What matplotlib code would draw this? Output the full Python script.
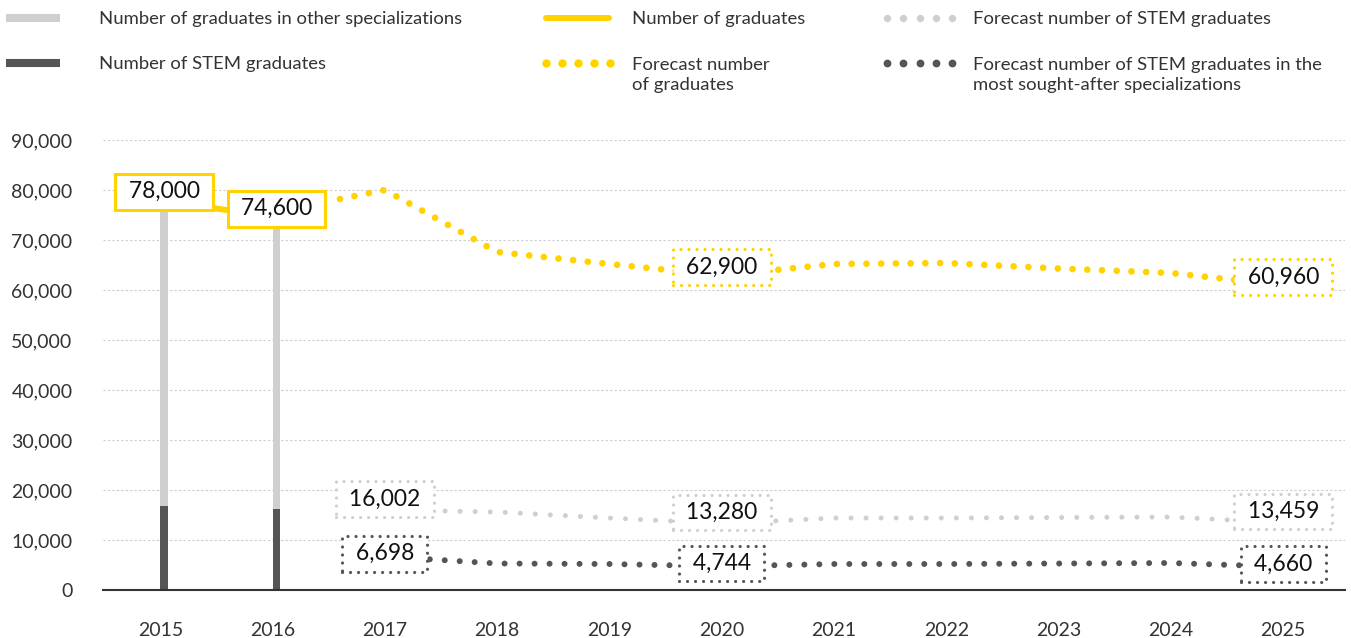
import matplotlib
matplotlib.use("Agg")
import matplotlib.pyplot as plt
from matplotlib.lines import Line2D
import numpy as np

plt.rcParams['font.family'] = ['Lato', 'DejaVu Sans']

# actual figures (bars + solid line)
actual_years = [2015, 2016]
graduates_total = [78000, 74600]
graduates_stem = [16800, 16200]

# forecasts
fc_grad_years = [2016.6, 2017, 2018, 2019, 2020, 2021, 2022, 2023, 2024, 2025]
fc_graduates = [78200, 80000, 67600, 65200, 62900, 65200, 65400, 64300, 63400, 60960]
fc_years = [2017, 2018, 2019, 2020, 2021, 2022, 2023, 2024, 2025]
fc_stem = [16002, 15600, 14400, 13280, 14400, 14400, 14500, 14600, 13459]
fc_stem_top = [6698, 5300, 5200, 4744, 5200, 5200, 5300, 5400, 4660]

# which years get a value box
grad_label_years = [2020, 2025]
stem_label_years = [2017, 2020, 2025]

x_ticks = list(range(2015, 2026))
y_ticks = list(range(0, 90001, 10000))

YELLOW = '#FFD200'
LIGHT = '#CFCFCF'
DARK = '#555555'
TEXT = '#333333'

W, H = 1351, 638
fig = plt.figure(figsize=(W / 100, H / 100), dpi=100)
ax = fig.add_axes([103 / W, 1 - 590 / H, (1345 - 103) / W, 450 / H])


def dots(lw, gap):
    return dict(linewidth=lw, linestyle=(0, (0.01, gap)), dash_capstyle='round')


# bars
ax.bar(actual_years, graduates_total, width=0.07, align='edge', color=LIGHT, zorder=2)
ax.bar(actual_years, graduates_stem, width=0.07, align='edge', color=DARK, zorder=3)

# lines
ax.plot(actual_years, graduates_total, color=YELLOW, linewidth=4.3, solid_capstyle='round', zorder=3)
ax.plot(fc_grad_years, fc_graduates, color=YELLOW, zorder=3, **dots(4.8, 2.2))
ax.plot(fc_years, fc_stem, color=LIGHT, zorder=3, **dots(3.6, 3.0))
ax.plot(fc_years, fc_stem_top, color=DARK, zorder=3, **dots(4.3, 2.5))


def value_box(x, y, color, dotted, dy):
    if dotted:
        bb = dict(boxstyle='square,pad=0.32', fc='white', ec=color, lw=2.3,
                  ls=(0, (0.01, 2.5)), capstyle='round')
    else:
        bb = dict(boxstyle='square,pad=0.32', fc='white', ec=color, lw=2.2)
    ax.annotate(f" {y:,} ", (x, y), xytext=(0, dy), textcoords='offset points',
                ha='center', va='center', fontsize=16.5, color='#111111',
                bbox=bb, zorder=6)


for x, v in zip(actual_years, graduates_total):
    value_box(x + 0.035, v, YELLOW, False, 6)
for x, v in zip(fc_grad_years, fc_graduates):
    if x in grad_label_years:
        value_box(x, v, YELLOW, True, 6)
for x, v in zip(fc_years, fc_stem):
    if x in stem_label_years:
        value_box(x, v, LIGHT, True, 8)
for x, v in zip(fc_years, fc_stem_top):
    if x in stem_label_years:
        value_box(x, v, DARK, True, 2)

ax.set_xlim(2014.49, 2025.55)
ax.set_ylim(0, 90000)
ax.set_xticks(x_ticks)
ax.set_yticks(y_ticks)
ax.set_yticklabels([f"{v:,}" for v in y_ticks])
ax.tick_params(axis='both', length=0, labelsize=14, labelcolor=TEXT)
ax.tick_params(axis='x', pad=23)
ax.tick_params(axis='y', pad=22)
ax.grid(axis='y', color='#CCCCCC', linewidth=0.8, linestyle=(0, (2, 2)), zorder=0)
for s in ['top', 'right', 'left']:
    ax.spines[s].set_visible(False)
ax.spines['bottom'].set_color(TEXT)
ax.spines['bottom'].set_linewidth(1.5)
ax.spines['bottom'].set_zorder(4)

# legend drawn in pixel positions along the top
leg = fig.add_axes([0, 0, 1, 1], facecolor='none')
leg.set_xlim(0, W)
leg.set_ylim(H, 0)
leg.axis('off')

leg.add_line(Line2D([6, 60], [18, 18], color=LIGHT, linewidth=5.8, solid_capstyle='butt'))
leg.add_line(Line2D([6, 60], [63, 63], color=DARK, linewidth=5.8, solid_capstyle='butt'))
leg.add_line(Line2D([546, 609], [18, 18], color=YELLOW, linewidth=4.3, solid_capstyle='round'))
leg.add_line(Line2D(np.linspace(546, 610, 5), [63] * 5, color=YELLOW, marker='o',
                    markersize=5, linestyle='none'))
leg.add_line(Line2D(np.linspace(887, 952, 5), [18] * 5, color=LIGHT, marker='o',
                    markersize=4.3, linestyle='none'))
leg.add_line(Line2D(np.linspace(887, 952, 5), [63] * 5, color=DARK, marker='o',
                    markersize=4.6, linestyle='none'))

lkw = dict(fontsize=13.3, color=TEXT, va='center', ha='left')
leg.text(99, 19, "Number of graduates in other specializations", **lkw)
leg.text(99, 64, "Number of STEM graduates", **lkw)
leg.text(632, 19, "Number of graduates", **lkw)
leg.text(632, 75, "Forecast number\nof graduates", linespacing=1.3, **lkw)
leg.text(973, 19, "Forecast number of STEM graduates", **lkw)
leg.text(973, 75, "Forecast number of STEM graduates in the\nmost sought-after specializations",
         linespacing=1.3, **lkw)

fig.savefig('out.png', dpi=100)
